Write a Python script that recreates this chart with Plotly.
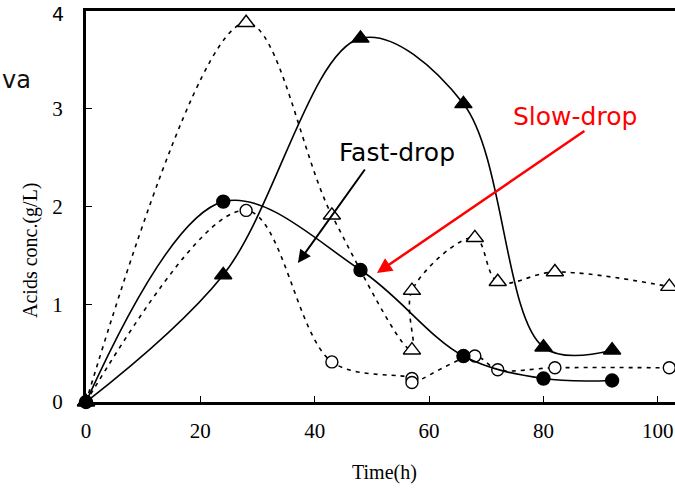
import plotly.graph_objects as go

# Data
fc_x = [0, 24, 48, 66, 80, 92]
fc_y = [0, 2.05, 1.35, 0.47, 0.24, 0.22]

ft_x = [0, 24, 48, 66, 80, 92]
ft_y = [0, 1.30, 3.72, 3.05, 0.56, 0.53]

ot_x = [0, 28, 43, 57, 57, 68, 72, 82, 102]
ot_y = [0, 3.88, 1.91, 0.53, 1.14, 1.68, 1.23, 1.33, 1.18]

oc_x = [0, 28, 43, 57, 57, 68, 72, 82, 102]
oc_y = [0, 1.96, 0.41, 0.24, 0.20, 0.47, 0.33, 0.35, 0.35]

x_ticks = [0, 20, 40, 60, 80, 100]
y_ticks = [0, 1, 2, 3]
y_top_label = "4"

SERIF = "Liberation Serif, Times New Roman, serif"
SANS = "DejaVu Sans, Verdana, sans-serif"

fig = go.Figure()

def add(x, y, symbol, fill, dash, size):
    fig.add_trace(go.Scatter(
        x=x, y=y, mode="lines+markers",
        line=dict(color="black", width=1.6, dash=dash, shape="spline", smoothing=1.0),
        marker=dict(symbol=symbol, size=size, color=fill, line=dict(color="black", width=1.4)),
        cliponaxis=False, showlegend=False,
    ))

add(ot_x, ot_y, "triangle-up", "white", "4px,5px", 15)
add(oc_x, oc_y, "circle", "white", "4px,5px", 12)
add(ft_x, ft_y, "triangle-up", "black", "solid", 15)
add(fc_x, fc_y, "circle", "black", "solid", 13)

W, H = 675, 488
L, T, B, R = 86, 11, 86, 0
pw = W - L - R
ph = H - T - B

fig.update_layout(
    width=W, height=H,
    margin=dict(l=L, r=R, t=T, b=B, pad=0),
    paper_bgcolor="white", plot_bgcolor="white",
    font=dict(family=SERIF, size=21, color="black"),
    xaxis=dict(range=[0, 103], tickvals=x_ticks, ticks="inside", ticklen=6, tickwidth=1,
               tickcolor="black", showline=True, linecolor="black", linewidth=3,
               mirror=True, showgrid=False, zeroline=False,
               tickfont=dict(family=SERIF, size=21), ticklabelstandoff=8),
    yaxis=dict(range=[0, 4], tickvals=y_ticks, ticks="inside", ticklen=6, tickwidth=1,
               tickcolor="black", showline=True, linecolor="black", linewidth=3,
               showgrid=False, zeroline=False,
               tickfont=dict(family=SERIF, size=21), ticklabelstandoff=16),
)

def px2x(p):
    return (p - L) / pw

def py2y(p):
    return (H - B - p) / ph

anns = [
    dict(text=y_top_label, xref="paper", yref="y", x=px2x(58), y=4,
         showarrow=False, font=dict(family=SANS, size=19), xanchor="center", yanchor="middle",
         yshift=-3),
    dict(text="Acids conc.(g/L)", xref="paper", yref="paper", x=px2x(30), y=py2y(250),
         textangle=-90, showarrow=False, font=dict(family=SERIF, size=20),
         xanchor="center", yanchor="middle"),
    dict(text="Time(h)", xref="paper", yref="paper", x=px2x(384), y=py2y(473),
         showarrow=False, font=dict(family=SERIF, size=20), xanchor="center", yanchor="middle"),
    dict(text="va", xref="paper", yref="paper", x=px2x(0), y=py2y(80),
         showarrow=False, font=dict(family=SANS, size=24, color="#111"),
         xanchor="left", yanchor="middle"),
    dict(text="Fast-drop", xref="x", yref="y", x=(397 - L) / 5.72, y=(402 - 152) / 97.75,
         showarrow=False, font=dict(family=SANS, size=25, color="black"),
         xanchor="center", yanchor="middle"),
    dict(text="Slow-drop", xref="x", yref="y", x=(575 - L) / 5.72, y=(402 - 116) / 97.75,
         showarrow=False, font=dict(family=SANS, size=25, color="red"),
         xanchor="center", yanchor="middle"),
    dict(text="", xref="x", yref="y", x=(298 - L) / 5.72, y=(402 - 263) / 97.75,
         axref="x", ayref="y", ax=(366 - L) / 5.72, ay=(402 - 168) / 97.75,
         showarrow=True, arrowhead=2, arrowsize=1.3, arrowwidth=2, arrowcolor="black"),
    dict(text="", xref="x", yref="y", x=(377 - L) / 5.72, y=(402 - 273) / 97.75,
         axref="x", ayref="y", ax=(586 - L) / 5.72, ay=(402 - 130) / 97.75,
         showarrow=True, arrowhead=2, arrowsize=1.2, arrowwidth=2.5, arrowcolor="red"),
]
fig.update_layout(annotations=anns)

fig.write_html("out.html")
